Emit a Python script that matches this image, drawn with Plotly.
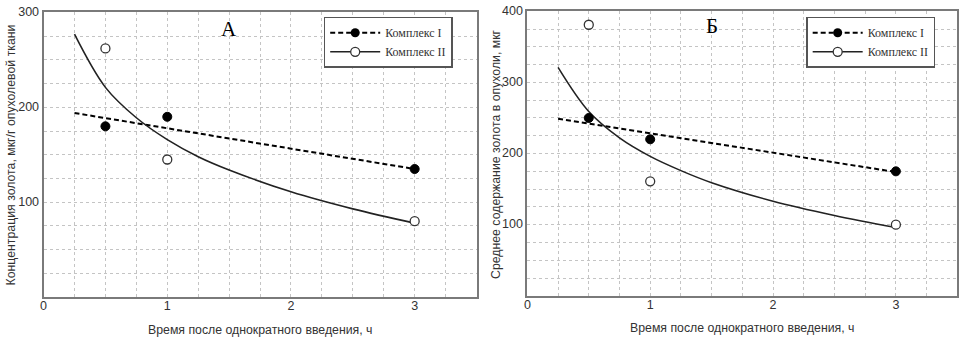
import plotly.graph_objects as go

# ---- data ----
time_pts = [0.5, 1, 3]
a_complex1 = [180, 190, 135]
a_complex2 = [262, 145, 80]
b_complex1 = [250, 220, 175]
b_complex2 = [381, 161, 100]

# trend lines as drawn in the picture
trend_lin_x = [0.25, 3]
a_trend1 = [194, 135]
b_trend1 = [249, 174]
trend_curve_x = [0.25, 0.5, 0.75, 1, 1.25, 1.5, 2, 2.5, 3]
a_trend2 = [277, 221, 189, 166, 148, 134, 111, 93, 78]
b_trend2 = [321, 259, 222, 196, 176, 159, 133, 113, 96]

x_ticks = [0, 1, 2, 3]
a_yticks = [100, 200, 300]
b_yticks = [100, 200, 300, 400]

names = ["Комплекс I", "Комплекс II"]
x_title = "Время после однократного введения, ч"
a_ytitle = "Концентрация золота, мкг/г опухолевой ткани"
b_ytitle = "Среднее содержание золота в опухоли, мкг"

SANS = "Arial, Liberation Sans, sans-serif"
SERIF = "Times New Roman, Liberation Serif, serif"
TXT = "#333333"
GRID = "#c4c4c4"

fig = go.Figure()


def add_panel(xa, ya, lg, c1, c2, t1, t2):
    # trend lines
    fig.add_trace(go.Scatter(x=trend_lin_x, y=t1, mode="lines", xaxis=xa, yaxis=ya,
                             line=dict(color="black", width=2, dash="5px,3px"),
                             showlegend=False, hoverinfo="skip"))
    fig.add_trace(go.Scatter(x=trend_curve_x, y=t2, mode="lines", xaxis=xa, yaxis=ya,
                             line=dict(color="#222222", width=1.6, shape="spline"),
                             showlegend=False, hoverinfo="skip"))
    # points
    fig.add_trace(go.Scatter(x=time_pts, y=c1, mode="markers", xaxis=xa, yaxis=ya,
                             marker=dict(size=9, color="black", line=dict(color="black", width=1)),
                             showlegend=False))
    fig.add_trace(go.Scatter(x=time_pts, y=c2, mode="markers", xaxis=xa, yaxis=ya,
                             marker=dict(size=9, color="white", line=dict(color="#333333", width=1.3)),
                             showlegend=False))
    # legend entries
    fig.add_trace(go.Scatter(x=[None], y=[None], mode="lines+markers", xaxis=xa, yaxis=ya,
                             name=names[0], legend=lg,
                             line=dict(color="black", width=2, dash="5px,3px"),
                             marker=dict(size=9, color="black")))
    fig.add_trace(go.Scatter(x=[None], y=[None], mode="lines+markers", xaxis=xa, yaxis=ya,
                             name=names[1], legend=lg,
                             line=dict(color="#222222", width=1.6),
                             marker=dict(size=9, color="white", line=dict(color="#333333", width=1.3))))


add_panel("x", "y", "legend", a_complex1, a_complex2, a_trend1, a_trend2)
add_panel("x2", "y2", "legend2", b_complex1, b_complex2, b_trend1, b_trend2)


def xaxis(domain, anchor):
    return dict(domain=domain, anchor=anchor, range=[0, 3.5], tickmode="array",
                tickvals=x_ticks, ticktext=[str(v) for v in x_ticks],
                showgrid=True, gridcolor=GRID, griddash="dot", gridwidth=1,
                minor=dict(tick0=0, dtick=0.25, showgrid=True, gridcolor=GRID,
                           griddash="dot", gridwidth=1),
                showline=True, linecolor="#7a7a7a", linewidth=2, mirror=True,
                zeroline=False, ticks="", ticklabelstandoff=-4,
                ticklabeloverflow="allow",
                tickfont=dict(family=SANS, size=12.5, color=TXT),
                fixedrange=True)


def yaxis(domain, anchor, top, ticks):
    return dict(domain=domain, anchor=anchor, range=[0, top], tickmode="array",
                tickvals=ticks, ticktext=[str(v) for v in ticks],
                showgrid=True, gridcolor=GRID, griddash="dot", gridwidth=1,
                minor=dict(tick0=0, dtick=25, showgrid=True, gridcolor=GRID,
                           griddash="dot", gridwidth=1),
                showline=True, linecolor="#7a7a7a", linewidth=2, mirror=True,
                zeroline=False, ticks="", ticklabeloverflow="allow", ticklabelshift=-1,
                tickfont=dict(family=SANS, size=12.5, color=TXT),
                fixedrange=True)


W, H = 960, 345
legend_style = dict(xanchor="left", yanchor="top", bgcolor="white",
                    bordercolor="#555555", borderwidth=1.5,
                    font=dict(family=SERIF, size=12, color=TXT),
                    tracegroupgap=0, itemwidth=50,
                    entrywidth=80, entrywidthmode="pixels")

fig.update_layout(
    width=W, height=H,
    margin=dict(l=0, r=0, t=0, b=0),
    paper_bgcolor="white", plot_bgcolor="white",
    xaxis=xaxis([40.7 / W, 475 / W], "y"),
    yaxis=yaxis([(H - 296) / H, (H - 4.5) / H], "x", 300, a_yticks),
    xaxis2=xaxis([526 / W, 957.3 / W], "y2"),
    yaxis2=yaxis([(H - 294.7) / H, (H - 3.3) / H], "x2", 400, b_yticks),
    legend=dict(x=321.7 / W, y=1 - 9 / H, **legend_style),
    legend2=dict(x=805.7 / W, y=1 - 9 / H, **legend_style),
    annotations=[
        dict(text="А", x=1.5, y=283, xref="x", yref="y", showarrow=False,
             xanchor="center", yanchor="middle",
             font=dict(family=SERIF, size=21, color="black")),
        dict(text="Б", x=1.5, y=379, xref="x2", yref="y2", showarrow=False,
             xanchor="center", yanchor="middle",
             font=dict(family=SERIF, size=21, color="black")),
        dict(text=x_title, x=258 / W, y=(H - 330) / H, xref="paper", yref="paper",
             xanchor="center", yanchor="middle",
             showarrow=False, font=dict(family=SANS, size=12.3, color=TXT)),
        dict(text=x_title, x=741.7 / W, y=(H - 328) / H, xref="paper", yref="paper",
             xanchor="center", yanchor="middle",
             showarrow=False, font=dict(family=SANS, size=12.3, color=TXT)),
        dict(text=a_ytitle, x=8 / W, y=(H - 150) / H, xref="paper", yref="paper",
             xanchor="center", yanchor="middle",
             textangle=-90, showarrow=False, font=dict(family=SANS, size=12.3, color=TXT)),
        dict(text=b_ytitle, x=494 / W, y=(H - 149) / H, xref="paper", yref="paper",
             xanchor="center", yanchor="middle",
             textangle=-90, showarrow=False, font=dict(family=SANS, size=12.3, color=TXT)),
    ],
)

fig.write_html(
    "out.html",
    config={"displayModeBar": False},
    post_script="document.body.style.margin='0';document.body.style.overflow='hidden';",
)
